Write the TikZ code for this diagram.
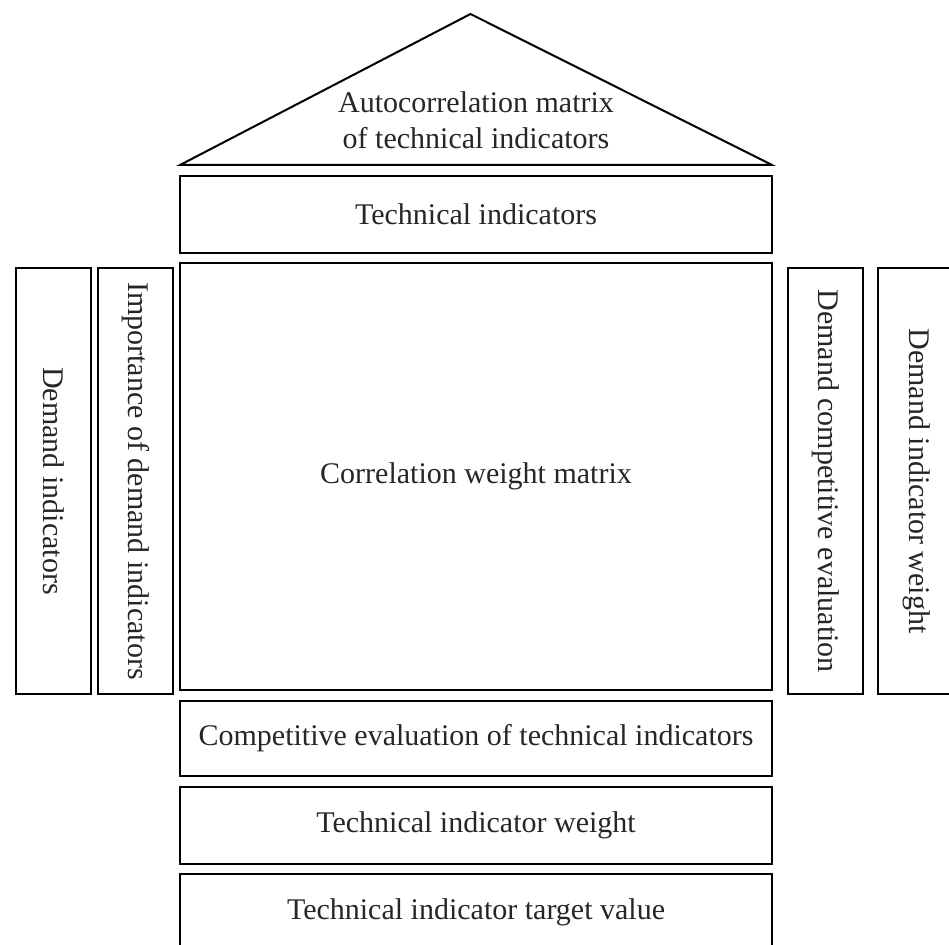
\documentclass[tikz,border=0pt]{standalone}
\usepackage{fontspec}
\setmainfont{Liberation Serif}
\begin{document}
\begin{tikzpicture}[x=1pt,y=-1pt,
  box/.style={draw=black, line width=2pt, inner sep=0pt, align=center, text=black!85,
    font=\fontsize{30}{36}\selectfont},
  vtext/.style={rotate=-90, text=black!85, font=\fontsize{30}{36}\selectfont, inner sep=0pt}]
\useasboundingbox (0,0) rectangle (949,944);
% roof
\coordinate (rl) at (180,165);
\coordinate (rt) at (470.5,14);
\coordinate (rr) at (772,165);
\draw[line width=2pt, line join=miter] (rl) -- (rt) -- (rr) -- cycle;
\node[text=black!85, font=\fontsize{30}{36}\selectfont, align=center, inner sep=0pt] (roof) at (476,120)
  {Autocorrelation matrix\\of technical indicators};
% horizontal boxes
\node[box, minimum width=592, minimum height=77] (tech) at (476,214.5) {Technical indicators};
\node[box, minimum width=592, minimum height=427] (main) at (476,476.5) {Correlation weight matrix};
\node[box, minimum width=592, minimum height=75] (comp) at (476,738.5) {Competitive evaluation of technical indicators};
\node[box, minimum width=592, minimum height=77] (weight) at (476,825.5) {Technical indicator weight};
\node[box, minimum width=592, minimum height=80] (target) at (476,914) {};
\node[text=black!85, font=\fontsize{30}{36}\selectfont, inner sep=0pt] (targettxt) at (476,912) {Technical indicator target value};
% vertical boxes
\node[box, minimum width=75, minimum height=426] (l1) at (53.5,481) {};
\node[vtext] (l1t) at (l1.center) {Demand indicators};
\node[box, minimum width=75, minimum height=426] (l2) at (135.5,481) {};
\node[vtext] (l2t) at (l2.center) {Importance of demand indicators};
\node[box, minimum width=75, minimum height=426] (r1) at (825.5,481) {};
\node[vtext] (r1t) at (r1.center) {Demand competitive evaluation};
\node[box, minimum width=78, minimum height=426] (r2) at (917,481) {};
\node[vtext] (r2t) at (r2.center) {Demand indicator weight};
\end{tikzpicture}
\end{document}
